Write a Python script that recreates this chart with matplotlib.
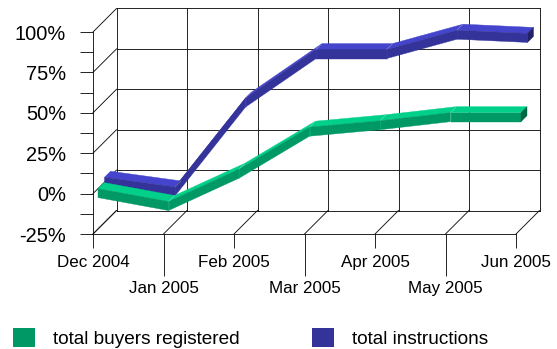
import matplotlib.pyplot as plt
import numpy as np
from matplotlib.patches import Polygon, Patch

months = ['Dec 2004', 'Jan 2005', 'Feb 2005', 'Mar 2005', 'Apr 2005', 'May 2005', 'Jun 2005']
buyers = [0, -8, 12, 38, 42, 47, 47]
instructions = [3, -3, 52, 82, 82, 94, 92]
y_ticks = [-25, 0, 25, 50, 75, 100]
y_labels = ['-25%', '0%', '25%', '50%', '75%', '100%']

plt.rcParams['font.family'] = ['Liberation Sans', 'DejaVu Sans']

W, H = 557, 349
fig = plt.figure(figsize=(W / 72, H / 72), dpi=72)

# front plane scale in pixels
px_x = 70.5          # per month
px_y = 40.4 / 25     # per percent
wall = 23.5          # depth of the box, px


def depth(d):
    # offset of d pixels into the box (up and to the right), in data units
    return d / px_x, d / px_y


n = len(months)
x = np.arange(n)
wx, wy = depth(wall)

ax = fig.add_axes([93 / W, 1 - 234 / H, (6 * px_x + wall) / W, (125 * px_y + wall) / H])
ax.set_xlim(0, n - 1 + wx)
ax.set_ylim(-25, 100 + wy)
ax.set_facecolor('none')

gc = '#111111'
glw = 0.9
# back wall, left wall and floor
for v in y_ticks:
    ax.plot([wx, n - 1 + wx], [v + wy, v + wy], color=gc, lw=glw, clip_on=False, zorder=1)
    ax.plot([0, wx], [v, v + wy], color=gc, lw=glw, clip_on=False, zorder=1)
for i in x:
    ax.plot([i + wx, i + wx], [-25 + wy, 100 + wy], color=gc, lw=glw, clip_on=False, zorder=1)
    ax.plot([i, i + wx], [-25, -25 + wy], color=gc, lw=glw, clip_on=False, zorder=1)


def ribbon(vals, d_front, d_back, thick, c_front, c_top, c_end, z):
    fx, fy = depth(d_front)
    bx, by = depth(d_back)
    ox, oy = bx - fx, by - fy
    t = thick / px_y
    xs = x + fx
    ys = np.asarray(vals, float) + fy
    for i in range(n - 1):
        top = [(xs[i], ys[i]), (xs[i + 1], ys[i + 1]),
               (xs[i + 1] + ox, ys[i + 1] + oy), (xs[i] + ox, ys[i] + oy)]
        ax.add_patch(Polygon(top, closed=True, fc=c_top, ec=c_top, lw=0.4, zorder=z))
    for i in range(n - 1):
        front = [(xs[i], ys[i]), (xs[i + 1], ys[i + 1]),
                 (xs[i + 1], ys[i + 1] - t), (xs[i], ys[i] - t)]
        ax.add_patch(Polygon(front, closed=True, fc=c_front, ec=c_front, lw=0.4, zorder=z))
    # faint creases at the joints
    for i in range(1, n - 1):
        ax.plot([xs[i], xs[i]], [ys[i], ys[i] - t], color=c_top, lw=0.5, alpha=0.6, zorder=z)
        ax.plot([xs[i], xs[i] + ox], [ys[i], ys[i] + oy], color='white', lw=0.5, alpha=0.4, zorder=z)
    end = [(xs[-1], ys[-1]), (xs[-1] + ox, ys[-1] + oy),
           (xs[-1] + ox, ys[-1] + oy - t), (xs[-1], ys[-1] - t)]
    ax.add_patch(Polygon(end, closed=True, fc=c_end, ec=c_end, lw=0.4, zorder=z))


ribbon(instructions, 11.5, 17.5, 9, '#333399', '#4444cc', '#222266', 3)
ribbon(buyers, 5.0, 11.0, 9, '#009966', '#00d08a', '#006644', 4)

for s in ['top', 'right']:
    ax.spines[s].set_visible(False)
ax.spines['left'].set_bounds(-25, 100)
ax.spines['bottom'].set_bounds(0, n - 1)
for s in ['left', 'bottom']:
    ax.spines[s].set_color(gc)
    ax.spines[s].set_linewidth(glw)

ax.set_yticks(y_ticks, y_labels)
ax.set_yticks(np.arange(-12.5, 100, 25), minor=True)
ax.tick_params(axis='y', which='both', direction='out', length=13, width=glw,
               color=gc, pad=14, labelsize=20)
ax.set_xticks(x[::2], months[::2])
ax.set_xticks(x[1::2], months[1::2], minor=True)
ax.tick_params(axis='x', which='major', direction='out', length=14, width=glw,
               color=gc, pad=7, labelsize=17)
ax.tick_params(axis='x', which='minor', direction='out', length=42, width=glw,
               color=gc, pad=5, labelsize=17)

handles = [Patch(fc='#009966', lw=0), Patch(fc='#333399', lw=0)]
fig.legend(handles, ['total buyers registered', 'total instructions'],
           loc='lower left', bbox_to_anchor=(13 / W, 1 / H), ncol=2, frameon=False,
           fontsize=19, handlelength=22 / 19, handleheight=22 / 19,
           handletextpad=18 / 19, columnspacing=72 / 19, borderpad=0, borderaxespad=0)

fig.savefig('out.png', dpi=72)
